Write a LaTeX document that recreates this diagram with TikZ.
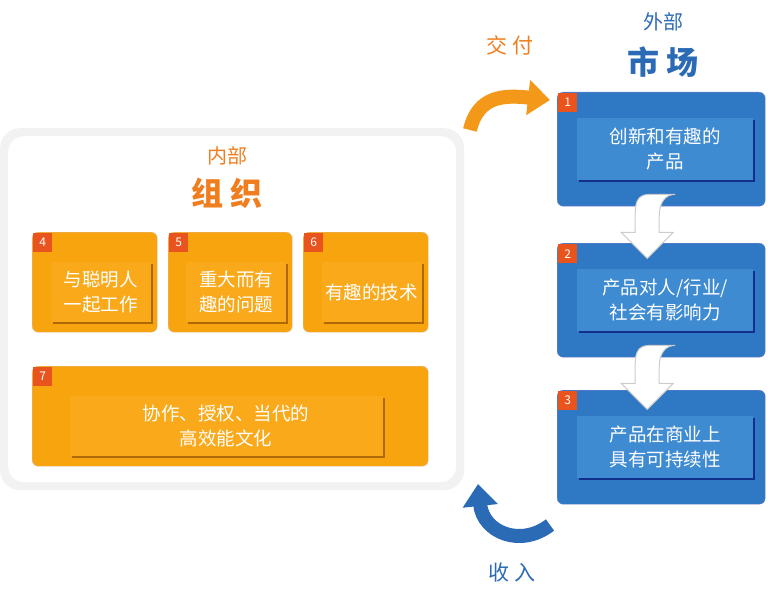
\documentclass[tikz,border=0pt]{standalone}
\usepackage{fontspec}
\setmainfont{Noto Sans CJK SC}
\usetikzlibrary{arrows.meta,shadows}
\definecolor{org}{HTML}{F7A40F}
\definecolor{orgin}{HTML}{F9A91A}
\definecolor{orgtxt}{HTML}{F07E1E}
\definecolor{blu}{HTML}{2F78C4}
\definecolor{bluin}{HTML}{3E8BD2}
\definecolor{blutxt}{HTML}{2B6BB5}
\definecolor{tab}{HTML}{E8531E}
\begin{document}
\begin{tikzpicture}[x=1pt,y=-1pt,
  obox/.style={fill=org,rounded corners=6pt,draw=orange!70!black!40},
  bbox/.style={fill=blu,rounded corners=6pt,draw=blue!60!black!50},
  oin/.style={fill=orgin,drop shadow={shadow xshift=2pt,shadow yshift=-2pt,fill=black!50!orange,opacity=.6}},
  bin/.style={fill=bluin,drop shadow={shadow xshift=2pt,shadow yshift=-2pt,fill=black!60!blue,opacity=.6}},
  txt/.style={text=white,font=\fontsize{18.5}{25}\selectfont,align=center},
  num/.style={fill=tab,text=white,font=\fontsize{12}{12}\selectfont,minimum size=19pt,inner sep=0pt,anchor=north west},
  down/.style={fill=white,draw=gray!40,line width=1pt}]
\useasboundingbox (0,0) rectangle (768,604);
% big panel
\node[fill=gray!10,rounded corners=20pt,minimum width=464pt,minimum height=362pt,anchor=north west] (panel) at (0,128) {};
\node[fill=white,rounded corners=16pt,minimum width=448pt,minimum height=346pt,anchor=north west] (panelin) at (8,136) {};
\node[text=orgtxt,font=\fontsize{20}{20}\selectfont] (inner) at (227,156) {内部};
\node[text=orgtxt,font=\fontsize{32}{32}\selectfont\bfseries] (org) at (227,193) {组 织};
% orange boxes
\foreach \n/\x/\y/\w/\h/\t/\iw/\sh in {4/32/232/125/100/{与聪明人\\一起工作}/100/6, 5/168/232/124/100/{重大而有\\趣的问题}/100/6, 6/303/232/125/100/{有趣的技术}/100/6, 7/32/366/396/100/{协作、授权、当代的\\高效能文化}/313/-4}{
  \pgfmathsetmacro\ix{\x+(\w-\iw)/2+\sh}
  \pgfmathsetmacro\iy{\y+30}
  \node[obox,minimum width=\w pt,minimum height=\h pt,anchor=north west] (o\n) at (\x,\y) {};
  \node[num] (on\n) at ({\x+1},{\y+1}) {\n};
  \node[oin,minimum width=\iw pt,minimum height=60pt,anchor=north west] (oi\n) at (\ix,\iy) {};
  \node[txt] (ot\n) at (oi\n) {\t};
}
% blue boxes
\foreach \n/\y/\t in {1/92/{创新和有趣的\\产品}, 2/243/{产品对人/行业/\\社会有影响力}, 3/390/{产品在商业上\\具有可持续性}}{
  \node[bbox,minimum width=208pt,minimum height=114pt,anchor=north west] (b\n) at (557,\y) {};
  \node[num] (bn\n) at (558,{\y+1}) {\n};
  \node[bin,minimum width=176pt,minimum height=62pt,anchor=north west] (bi\n) at (577,{\y+26}) {};
  \node[txt] (bt\n) at (bi\n) {\t};
}
% down arrows
\foreach \a/\b in {1/2,2/3}{
  \draw[down] ([xshift=-12pt,yshift=12pt]b\a.south)
    .. controls +(-14,0) and +(0,-10) .. ++(-14,22) -- ++(0,16) -- ++(-14,0) -- ++(26,26) -- ++(26,-26) -- ++(-14,0) -- ++(0,-16)
    .. controls +(0,-14) and +(-10,0) .. ++(16,-22) -- cycle;
}
% titles
\node[text=blutxt,font=\fontsize{20}{20}\selectfont] (outer) at (663,22) {外部};
\node[text=blutxt,font=\fontsize{32}{32}\selectfont\bfseries] (mkt) at (663,62) {市 场};
\node[text=orgtxt,font=\fontsize{21}{21}\selectfont] (deliver) at (510,45) {交 付};
\node[text=blutxt,font=\fontsize{21}{21}\selectfont] (income) at (512,573) {收 入};
% curved arrows
\coordinate (d1) at (470,130);
\coordinate (d2) at (550,100);
\draw[line width=14pt,orgtxt!80!yellow,-{Triangle[width=34pt,length=22pt]}] (d1) .. controls (478,95) and (505,95) .. (d2);
\coordinate (r1) at (550,525);
\coordinate (r2) at (478,484);
\draw[line width=14pt,blutxt,-{Triangle[width=34pt,length=22pt]}] (r1) .. controls (520,548) and (483,532) .. (r2);
\end{tikzpicture}
\end{document}
